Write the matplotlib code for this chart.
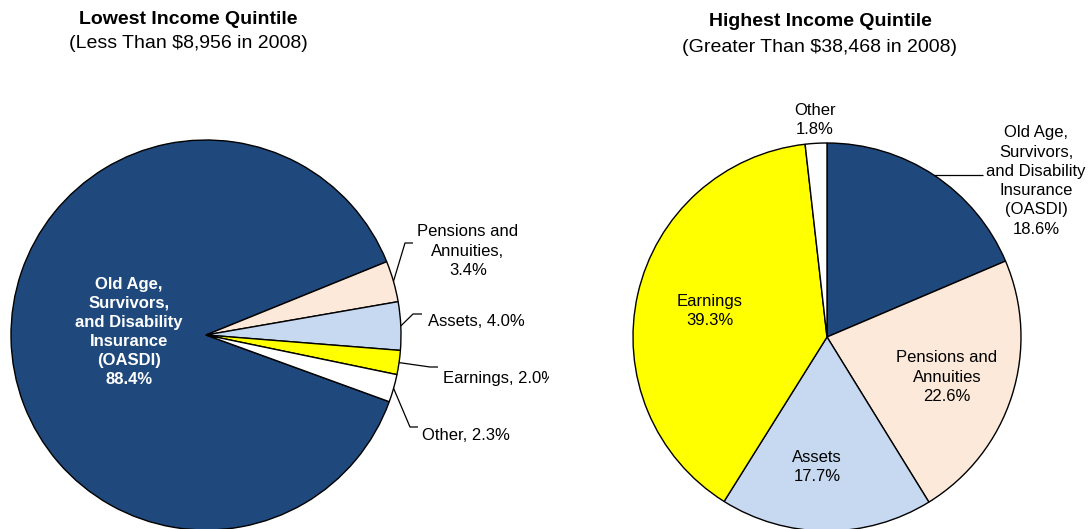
import numpy as np
import matplotlib
matplotlib.use("Agg")
import matplotlib.pyplot as plt

plt.rcParams['font.family'] = ['Liberation Sans', 'DejaVu Sans']

# ---------------------------------------------------------------
# data: shares of aggregate income by source, aged units 65+, 2008
# ---------------------------------------------------------------
sources = ["OASDI", "Pensions and Annuities", "Assets", "Earnings", "Other"]
lowest_shares = [88.4, 3.4, 4.0, 2.0, 2.3]
highest_shares = [18.6, 22.6, 17.7, 39.3, 1.8]

lowest_names = ["Old Age,\nSurvivors,\nand Disability\nInsurance\n(OASDI)",
                "Pensions and\nAnnuities,", "Assets,", "Earnings,", "Other,"]
highest_names = ["Old Age,\nSurvivors,\nand Disability\nInsurance\n(OASDI)",
                 "Pensions and\nAnnuities", "Assets", "Earnings", "Other"]

colors = ["#1f497d", "#fde9d9", "#c6d9f1", "#ffff00", "#ffffff"]

W, H = 1091, 529
SPLIT = 549
LBL = 12      # label font size
LS = 1.35     # label line spacing


def ypx(y):
    # picture y (top-down) -> axes y (bottom-up)
    return H - y


fig = plt.figure(figsize=(W / 100, H / 100), dpi=100)
ax_l = fig.add_axes([0, 0, SPLIT / W, 1])
ax_r = fig.add_axes([SPLIT / W, 0, (W - SPLIT) / W, 1])

wedge_style = dict(edgecolor="black", linewidth=1.0)

# ---------------- left pie: lowest quintile ----------------
c_l = (206, ypx(335))
r_l = 195
wedges_l, _ = ax_l.pie(lowest_shares, colors=colors, startangle=-20, counterclock=False,
                       center=c_l, radius=r_l, wedgeprops=wedge_style)
ax_l.set_xlim(0, SPLIT)
ax_l.set_ylim(0, H)
ax_l.set_aspect("auto")
ax_l.axis("off")

ax_l.text(188, ypx(20), "Lowest Income Quintile", ha="center", va="center",
          fontsize=14, fontweight="bold")
ax_l.text(188, ypx(44), "(Less Than $8,956 in 2008)", ha="center", va="center", fontsize=14)

ax_l.text(129, ypx(332), f"{lowest_names[0]}\n{lowest_shares[0]:.1f}%", ha="center", va="center",
          fontsize=LBL, fontweight="bold", color="white", linespacing=LS)


def leader(ax, wedge, center, radius, pts):
    mid = np.deg2rad((wedge.theta1 + wedge.theta2) / 2)
    xs = [center[0] + radius * np.cos(mid)] + [p[0] for p in pts]
    ys = [center[1] + radius * np.sin(mid)] + [ypx(p[1]) for p in pts]
    ax.plot(xs, ys, color="black", linewidth=0.9, solid_capstyle="butt")


# leader elbows and label anchors (picture pixels)
left_leaders = [None,
                [(405, 243), (413, 243)],
                [(413, 314), (422, 314)],
                [(430, 367), (438, 367)],
                [(410, 427), (418, 427)]]
for i in range(1, 5):
    leader(ax_l, wedges_l[i], c_l, r_l, left_leaders[i])

ax_l.text(468, ypx(251), f"{lowest_names[1]}\n{lowest_shares[1]:.1f}%", ha="center", va="center",
          fontsize=LBL, linespacing=LS)
ax_l.text(428, ypx(322), f"{lowest_names[2]} {lowest_shares[2]:.1f}%", ha="left", va="center",
          fontsize=LBL)
ax_l.text(443, ypx(378), f"{lowest_names[3]} {lowest_shares[3]:.1f}%", ha="left", va="center",
          fontsize=LBL, clip_on=True)
ax_l.text(422, ypx(435), f"{lowest_names[4]} {lowest_shares[4]:.1f}%", ha="left", va="center",
          fontsize=LBL)

# ---------------- right pie: highest quintile ----------------
c_r = (827, ypx(337))
r_r = 194
wedges_r, _ = ax_r.pie(highest_shares, colors=colors, startangle=90, counterclock=False,
                       center=c_r, radius=r_r, wedgeprops=wedge_style)
ax_r.set_xlim(SPLIT, W)
ax_r.set_ylim(0, H)
ax_r.set_aspect("auto")
ax_r.axis("off")

ax_r.text(820, ypx(22), "Highest Income Quintile", ha="center", va="center",
          fontsize=14, fontweight="bold")
ax_r.text(820, ypx(47), "(Greater Than $38,468 in 2008)", ha="center", va="center", fontsize=14)

# OASDI label outside with a flat leader
mid = np.deg2rad((wedges_r[0].theta1 + wedges_r[0].theta2) / 2)
sx = c_r[0] + r_r * np.cos(mid)
sy = c_r[1] + r_r * np.sin(mid)
ax_r.plot([sx, 983], [sy, sy], color="black", linewidth=0.9, solid_capstyle="butt")

label_pos = [(1036, 181), (947, 377), (817, 467), (710, 311), (815, 120)]
for i, (name, val) in enumerate(zip(highest_names, highest_shares)):
    x, y = label_pos[i]
    ax_r.text(x, ypx(y), f"{name}\n{val:.1f}%", ha="center", va="center",
              fontsize=LBL, linespacing=LS)

fig.savefig("out.png", dpi=100)
